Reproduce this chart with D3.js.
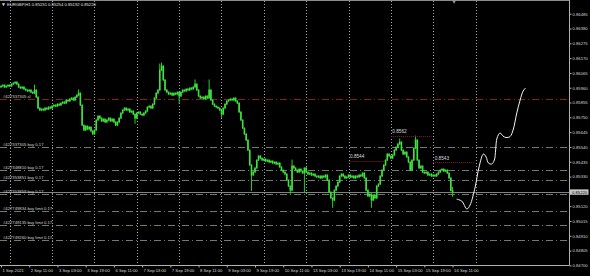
<!DOCTYPE html>
<html>
<head>
<meta charset="utf-8">
<script src="https://cdn.jsdelivr.net/npm/d3@7"></script>
<style>
  body { margin: 0; background: #000; }
  svg { display: block; }
  text { font-family: "Liberation Sans", Arial, sans-serif; }
</style>
</head>
<body>
<script>

// ---- data ----
var header = "EURGBP,H1  0.85231 0.85254 0.85192 0.85220";
var lastOHLC = [0.85231, 0.85254, 0.85192, 0.85220];
var bid = 0.85220;
var firstOpen = 0.85965;

// H1 closes, 1 Sep 19:00 .. 16 Sep 11:00
var closes = [
  0.85972, 0.85979, 0.85965, 0.85972, 0.85979, 0.85972, 0.85986, 0.85993, 0.86000, 0.85986,
  0.85965, 0.85958, 0.85965, 0.85951, 0.85944, 0.85937, 0.85944, 0.85929, 0.85922, 0.85944,
  0.85894, 0.85816, 0.85802, 0.85809, 0.85802, 0.85816, 0.85809, 0.85823, 0.85816, 0.85830,
  0.85837, 0.85830, 0.85844, 0.85837, 0.85851, 0.85859, 0.85851, 0.85873, 0.85866, 0.85880,
  0.85887, 0.85873, 0.85894, 0.85908, 0.85922, 0.85837, 0.85695, 0.85660, 0.85688, 0.85667,
  0.85681, 0.85653, 0.85632, 0.85660, 0.85731, 0.85759, 0.85745, 0.85724, 0.85738, 0.85717,
  0.85731, 0.85745, 0.85724, 0.85738, 0.85717, 0.85695, 0.85717, 0.85745, 0.85781, 0.85802,
  0.85816, 0.85802, 0.85809, 0.85788, 0.85795, 0.85773, 0.85745, 0.85781, 0.85788, 0.85773,
  0.85766, 0.85781, 0.85795, 0.85823, 0.85830, 0.85816, 0.85844, 0.85887, 0.85922, 0.85944,
  0.86085, 0.86114, 0.86015, 0.85944, 0.85929, 0.85915, 0.85922, 0.85908, 0.85922, 0.85915,
  0.85929, 0.85901, 0.85929, 0.85944, 0.85937, 0.85951, 0.85944, 0.85958, 0.85951, 0.85965,
  0.85986, 0.85944, 0.85901, 0.85887, 0.85894, 0.85880, 0.85901, 0.85887, 0.85944, 0.85873,
  0.85844, 0.85830, 0.85823, 0.85816, 0.85802, 0.85773, 0.85816, 0.85844, 0.85866, 0.85873,
  0.85880, 0.85873, 0.85887, 0.85866, 0.85851, 0.85788, 0.85731, 0.85674, 0.85632, 0.85589,
  0.85518, 0.85412, 0.85341, 0.85362, 0.85391, 0.85447, 0.85476, 0.85461, 0.85447, 0.85454,
  0.85440, 0.85447, 0.85433, 0.85440, 0.85426, 0.85433, 0.85419, 0.85426, 0.85398, 0.85376,
  0.85362, 0.85348, 0.85305, 0.85263, 0.85234, 0.85405, 0.85391, 0.85376, 0.85362, 0.85383,
  0.85369, 0.85355, 0.85391, 0.85362, 0.85348, 0.85355, 0.85341, 0.85348, 0.85334, 0.85327,
  0.85334, 0.85320, 0.85334, 0.85327, 0.85341, 0.85305, 0.85220, 0.85178, 0.85163, 0.85234,
  0.85263, 0.85291, 0.85334, 0.85348, 0.85334, 0.85320, 0.85327, 0.85341, 0.85327, 0.85334,
  0.85320, 0.85334, 0.85327, 0.85341, 0.85334, 0.85355, 0.85320, 0.85234, 0.85192, 0.85206,
  0.85163, 0.85199, 0.85178, 0.85263, 0.85277, 0.85334, 0.85376, 0.85412, 0.85447, 0.85490,
  0.85476, 0.85461, 0.85483, 0.85518, 0.85539, 0.85561, 0.85575, 0.85518, 0.85490, 0.85504,
  0.85469, 0.85433, 0.85376, 0.85447, 0.85532, 0.85589, 0.85447, 0.85391, 0.85405, 0.85362,
  0.85355, 0.85362, 0.85341, 0.85348, 0.85334, 0.85341, 0.85334, 0.85348, 0.85362, 0.85376,
  0.85383, 0.85369, 0.85376, 0.85355, 0.85320, 0.85231, 0.85220
];

// long wicks that stick out of the bodies: [bar, price]
var wickHighs = [[19, 0.85979], [44, 0.85944], [90, 0.86128], [91, 0.86135], [110, 0.86015],
                 [118, 0.86015], [165, 0.85447], [226, 0.85596], [235, 0.85617]];
var wickLows = [[76, 0.85710], [101, 0.85851], [125, 0.85752], [142, 0.85234], [164, 0.85213],
                [172, 0.85220], [188, 0.85114], [210, 0.85114]];

// hand drawn white projection
var forecastBars = [258.3, 261.2, 264.1, 265.9, 268.8, 271.0, 273.5, 275.0, 276.3, 278.2, 279.7,
                    280.4, 281.2, 282.9, 284.6, 286.3, 288.6, 290.3, 292.4, 294.3, 296.0, 297.4];
var forecastPrices = [0.85170, 0.85156, 0.85100, 0.85128, 0.85256, 0.85398, 0.85490, 0.85469,
                      0.85426, 0.85419, 0.85447, 0.85518, 0.85603, 0.85639, 0.85617, 0.85607,
                      0.85614, 0.85660, 0.85781, 0.85873, 0.85937, 0.85958];

// orders
var slLabel = "#427337305 sl";
var slPrice = 0.85878;
var orderLabels = ["#427337305 buy 0.17", "#427348810 buy 0.17", "#427353851 buy 0.17",
                   "#427353859 buy 0.17", "#427749834 buy limit 0.17", "#427749135 buy limit 0.17",
                   "#427749260 buy limit 0.17"];
var orderPrices = [0.85539, 0.85376, 0.85305, 0.85206, 0.85089, 0.84984, 0.84878];

// text objects with dotted levels
var noteLabels = ["0.8544", "0.8562", "0.8543"];
var notePrices = [0.8544, 0.8562, 0.8543];
var noteFrom = [197, 221, 245];
var noteTo = [217, 244, 268];

// axes
var priceTicks = [0.84700, 0.84805, 0.84910, 0.85015, 0.85120, 0.85225, 0.85330, 0.85435, 0.85540,
                  0.85645, 0.85750, 0.85855, 0.85960, 0.86065, 0.86170, 0.86275, 0.86380, 0.86485];
var timeLabels = ["1 Sep 2021", "2 Sep 11:00", "3 Sep 03:00", "3 Sep 19:00", "6 Sep 11:00",
                  "7 Sep 03:00", "7 Sep 19:00", "8 Sep 11:00", "9 Sep 03:00", "9 Sep 19:00",
                  "10 Sep 11:00", "13 Sep 03:00", "13 Sep 19:00", "14 Sep 11:00", "15 Sep 03:00",
                  "15 Sep 19:00", "16 Sep 11:00"];
var timeLabelBars = [0, 16, 32, 48, 64, 80, 96, 112, 128, 144, 160, 176, 192, 208, 224, 240, 256];
var dayStartBars = [5, 29, 53, 77, 101, 125, 149, 173, 197, 221, 245, 269];


var width = 590, height = 276;
var plotRight = 569, plotBottom = 265;
var fontSize = "4.2px";

var x = d3.scaleLinear().domain([0, 322]).range([1, plotRight]);
var y = d3.scaleLinear().domain([0.84700, 0.86485]).range([265.4, 13.7]);

var svg = d3.select("body").append("svg")
    .attr("width", width)
    .attr("height", height)
    .style("background", "#000");

// vertical dotted grid at each day start
svg.append("g").selectAll("line")
    .data(dayStartBars)
  .enter().append("line")
    .attr("x1", function(d) { return Math.round(x(d)) + 0.5; })
    .attr("x2", function(d) { return Math.round(x(d)) + 0.5; })
    .attr("y1", 1)
    .attr("y2", plotBottom)
    .attr("stroke", "#a8a8a8")
    .attr("stroke-width", 1)
    .attr("stroke-dasharray", "1,2");

// order lines (dash dot)
svg.append("line")
    .attr("x1", 0).attr("x2", plotRight)
    .attr("y1", Math.round(y(slPrice)) + 0.5).attr("y2", Math.round(y(slPrice)) + 0.5)
    .attr("stroke", "#8e1a1a")
    .attr("stroke-dasharray", "7,3,1,3");

svg.append("g").selectAll("line")
    .data(orderPrices)
  .enter().append("line")
    .attr("x1", 0).attr("x2", plotRight)
    .attr("y1", function(d) { return Math.round(y(d)) + 0.5; })
    .attr("y2", function(d) { return Math.round(y(d)) + 0.5; })
    .attr("stroke", "#6d7d6d")
    .attr("stroke-dasharray", "7,3,1,3");

// bid line
svg.append("line")
    .attr("x1", 0).attr("x2", plotRight)
    .attr("y1", Math.round(y(bid)) + 0.5).attr("y2", Math.round(y(bid)) + 0.5)
    .attr("stroke", "#7d867d");

// order labels
svg.append("text")
    .attr("x", 3)
    .attr("y", Math.round(y(slPrice)) - 0.8)
    .attr("font-size", fontSize)
    .attr("fill", "#d6d6d6")
    .text(slLabel);

svg.append("g").selectAll("text")
    .data(orderLabels)
  .enter().append("text")
    .attr("x", 3)
    .attr("y", function(d, i) { return Math.round(y(orderPrices[i])) - 0.8; })
    .attr("font-size", fontSize)
    .attr("fill", "#d6d6d6")
    .text(function(d) { return d; });

// candles
var bars = closes.map(function(c, i) {
  var o = i == 0 ? firstOpen : closes[i - 1];
  var h = Math.max(o, c), l = Math.min(o, c);
  if (i == closes.length - 1) { o = lastOHLC[0]; h = lastOHLC[1]; l = lastOHLC[2]; }
  return {i: i, o: o, h: h, l: l, c: c};
});
wickHighs.forEach(function(w) { bars[w[0]].h = Math.max(bars[w[0]].h, w[1]); });
wickLows.forEach(function(w) { bars[w[0]].l = Math.min(bars[w[0]].l, w[1]); });

var candles = svg.append("g");
candles.selectAll("line")
    .data(bars)
  .enter().append("line")
    .attr("x1", function(d) { return x(d.i); })
    .attr("x2", function(d) { return x(d.i); })
    .attr("y1", function(d) { return y(d.h) - 0.5; })
    .attr("y2", function(d) { return y(d.l) + 0.8; })
    .attr("stroke", "#22d022")
    .attr("stroke-width", 1);

candles.selectAll("rect")
    .data(bars)
  .enter().append("rect")
    .attr("x", function(d) { return x(d.i) - 0.8; })
    .attr("width", 1.6)
    .attr("y", function(d) { return y(Math.max(d.o, d.c)) - 0.4; })
    .attr("height", function(d) { return Math.max(1.2, y(Math.min(d.o, d.c)) - y(Math.max(d.o, d.c)) + 0.8); })
    .attr("fill", "#3fe23f");

// text objects
var notes = svg.append("g");
notes.selectAll("line")
    .data(noteLabels)
  .enter().append("line")
    .attr("x1", function(d, i) { return x(noteFrom[i]); })
    .attr("x2", function(d, i) { return x(noteTo[i]); })
    .attr("y1", function(d, i) { return Math.round(y(notePrices[i])) + 0.5; })
    .attr("y2", function(d, i) { return Math.round(y(notePrices[i])) + 0.5; })
    .attr("stroke", "#8e1a1a")
    .attr("stroke-dasharray", "1,1");

notes.selectAll("text")
    .data(noteLabels)
  .enter().append("text")
    .attr("x", function(d, i) { return x(noteFrom[i]) + 1.5; })
    .attr("y", function(d, i) { return y(notePrices[i]) - 2.6; })
    .attr("font-size", "4.7px")
    .attr("fill", "#dcdcdc")
    .text(function(d) { return d; });

// white projection curve
var line = d3.line()
    .x(function(d) { return x(d[0]); })
    .y(function(d) { return y(d[1]); })
    .curve(d3.curveCatmullRom.alpha(0.5));

svg.append("path")
    .datum(forecastBars.map(function(b, i) { return [b, forecastPrices[i]]; }))
    .attr("d", line)
    .attr("fill", "none")
    .attr("stroke", "#f4f4f4")
    .attr("stroke-width", 1);

// frame
svg.append("line")
    .attr("x1", 0).attr("x2", plotRight)
    .attr("y1", 0.5).attr("y2", 0.5)
    .attr("stroke", "#8a8a8a");

// price axis on the right
var yAxis = svg.append("g")
    .attr("transform", "translate(" + (plotRight + 0.5) + ",0)")
    .call(d3.axisRight(y).tickValues(priceTicks).tickFormat(d3.format(".5f")).tickSize(2).tickSizeOuter(0));
yAxis.select(".domain").attr("stroke", "#b0b0b0").attr("d", "M0,0V" + (plotBottom + 0.5));
yAxis.selectAll(".tick line").attr("stroke", "#b0b0b0");
yAxis.selectAll(".tick text")
    .attr("x", 3)
    .attr("fill", "#d6d6d6")
    .attr("font-size", fontSize)
    .attr("font-family", "Liberation Sans, Arial, sans-serif");

// time axis at the bottom
var xAxis = svg.append("g")
    .attr("transform", "translate(0," + (plotBottom + 0.5) + ")")
    .call(d3.axisBottom(x).tickValues(timeLabelBars)
      .tickFormat(function(d, i) { return timeLabels[i]; }).tickSize(2).tickSizeOuter(0));
xAxis.select(".domain").attr("stroke", "#b0b0b0").attr("d", "M0,0H" + (plotRight + 0.5));
xAxis.selectAll(".tick line").attr("stroke", "#b0b0b0");
xAxis.selectAll(".tick text")
    .attr("text-anchor", "start")
    .attr("x", 1)
    .attr("y", 3.3)
    .attr("fill", "#d6d6d6")
    .attr("font-size", fontSize)
    .attr("font-family", "Liberation Sans, Arial, sans-serif");

// bid box on the price axis
var bidG = svg.append("g")
    .attr("transform", "translate(" + (plotRight + 0.5) + "," + y(bid) + ")");
bidG.append("rect")
    .attr("x", 0.5).attr("y", -2.7)
    .attr("width", 18.5).attr("height", 5.4)
    .attr("fill", "#c8c8c8");
bidG.append("text")
    .attr("x", 2.5).attr("dy", "0.35em")
    .attr("font-size", fontSize)
    .attr("fill", "#000")
    .text(d3.format(".5f")(bid));

// header, top left
svg.append("path")
    .attr("d", d3.symbol().type(d3.symbolTriangle).size(5)())
    .attr("transform", "translate(3.5,4.3) rotate(180)")
    .attr("fill", "#cfcfcf");
svg.append("text")
    .attr("x", 7)
    .attr("y", 5.8)
    .attr("font-size", fontSize)
    .attr("fill", "#e0e0e0")
    .text(header);

// chart shift marker above last bar
svg.append("path")
    .attr("d", d3.symbol().type(d3.symbolTriangle).size(6)())
    .attr("transform", "translate(" + (x(closes.length - 1) + 1.5) + ",1.6) rotate(180)")
    .attr("fill", "#9a9a9a");

</script>
</body>
</html>
